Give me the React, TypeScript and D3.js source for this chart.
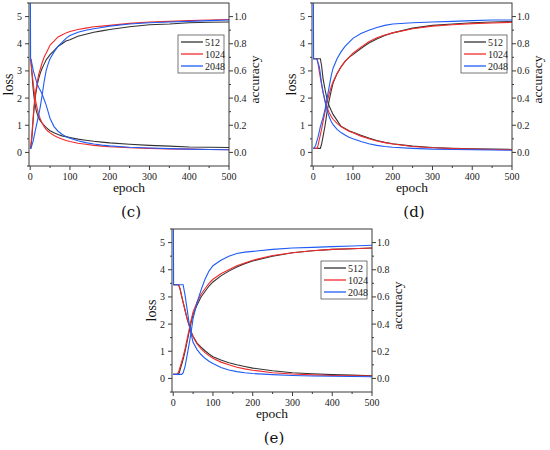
import React from "react";
import * as d3 from "d3";

// ---------- data ----------
const EPOCHS = [0, 1, 2, 4, 6, 8, 10, 12, 15, 18, 21, 25, 30, 35, 40, 45, 50, 60, 70, 80, 90, 100, 120, 140, 160, 180, 200, 250, 300, 350, 400, 450, 500];
const SERIES_NAMES = ["512", "1024", "2048"];
const COLORS = ["#333333", "#f22a2a", "#1f5cf5"];

const X_TICKS = [0, 100, 200, 300, 400, 500];
const LOSS_TICKS = [0, 1, 2, 3, 4, 5];
const ACC_TICKS = [0, 0.2, 0.4, 0.6, 0.8, 1.0];

// panel (c)
const cLoss512 = [3.45, 3.45, 3.4, 3.0, 2.6, 2.25, 2.0, 1.8, 1.55, 1.4, 1.28, 1.18, 1.08, 1.0, 0.92, 0.86, 0.8, 0.72, 0.66, 0.61, 0.58, 0.55, 0.49, 0.45, 0.41, 0.38, 0.35, 0.3, 0.26, 0.23, 0.2, 0.19, 0.18];
const cLoss1024 = [3.45, 3.4, 3.3, 3.0, 2.75, 2.5, 2.25, 2.05, 1.8, 1.6, 1.42, 1.25, 1.08, 0.95, 0.85, 0.78, 0.72, 0.62, 0.55, 0.49, 0.44, 0.4, 0.34, 0.3, 0.26, 0.23, 0.21, 0.17, 0.15, 0.13, 0.12, 0.11, 0.1];
const cLoss2048 = [8, 3.45, 3.42, 3.3, 3.15, 3.0, 2.9, 2.8, 2.65, 2.5, 2.4, 2.3, 2.15, 1.95, 1.75, 1.5, 1.25, 0.95, 0.78, 0.67, 0.58, 0.52, 0.43, 0.36, 0.31, 0.27, 0.24, 0.19, 0.16, 0.14, 0.12, 0.11, 0.1];
const cAcc512 = [0.03, 0.03, 0.05, 0.1, 0.18, 0.26, 0.33, 0.39, 0.45, 0.5, 0.54, 0.58, 0.62, 0.65, 0.68, 0.7, 0.72, 0.75, 0.78, 0.8, 0.82, 0.83, 0.855, 0.87, 0.885, 0.895, 0.905, 0.925, 0.94, 0.945, 0.955, 0.958, 0.96];
const cAcc1024 = [0.03, 0.035, 0.06, 0.12, 0.2, 0.28, 0.35, 0.41, 0.47, 0.52, 0.57, 0.61, 0.66, 0.7, 0.73, 0.76, 0.79, 0.82, 0.85, 0.865, 0.88, 0.89, 0.905, 0.915, 0.925, 0.93, 0.935, 0.95, 0.96, 0.965, 0.97, 0.975, 0.978];
const cAcc2048 = [0.03, 0.03, 0.03, 0.05, 0.07, 0.09, 0.12, 0.15, 0.19, 0.23, 0.27, 0.33, 0.42, 0.52, 0.6, 0.65, 0.69, 0.74, 0.78, 0.81, 0.84, 0.86, 0.885, 0.9, 0.91, 0.92, 0.93, 0.945, 0.955, 0.96, 0.965, 0.97, 0.975];

// panel (d)
const dLoss512 = [3.45, 3.45, 3.45, 3.45, 3.45, 3.45, 3.45, 3.45, 3.45, 3.45, 3.2, 2.7, 2.3, 1.95, 1.72, 1.55, 1.4, 1.18, 0.96, 0.88, 0.8, 0.74, 0.63, 0.53, 0.44, 0.37, 0.32, 0.23, 0.18, 0.15, 0.13, 0.12, 0.11];
const dLoss1024 = [3.45, 3.45, 3.45, 3.45, 3.45, 3.45, 3.45, 3.3, 3.0, 2.75, 2.5, 2.2, 1.9, 1.65, 1.47, 1.33, 1.22, 1.07, 0.95, 0.86, 0.78, 0.72, 0.6, 0.5, 0.42, 0.36, 0.31, 0.22, 0.17, 0.14, 0.12, 0.11, 0.1];
const dLoss2048 = [8, 3.45, 3.45, 3.45, 3.45, 3.45, 3.4, 3.3, 3.18, 2.9, 2.55, 2.2, 1.85, 1.55, 1.32, 1.15, 1.02, 0.85, 0.73, 0.64, 0.56, 0.5, 0.4, 0.32, 0.26, 0.22, 0.19, 0.15, 0.12, 0.11, 0.1, 0.09, 0.08];
const dAcc512 = [0.03, 0.03, 0.03, 0.03, 0.03, 0.03, 0.03, 0.03, 0.03, 0.03, 0.06, 0.12, 0.2, 0.3, 0.38, 0.45, 0.51, 0.58, 0.63, 0.67, 0.7, 0.72, 0.765, 0.805, 0.835, 0.86, 0.88, 0.915, 0.935, 0.945, 0.955, 0.96, 0.963];
const dAcc1024 = [0.03, 0.03, 0.03, 0.03, 0.03, 0.03, 0.03, 0.05, 0.09, 0.13, 0.17, 0.23, 0.3, 0.37, 0.43, 0.48, 0.52, 0.58, 0.63, 0.67, 0.7, 0.73, 0.775, 0.815, 0.845, 0.865, 0.88, 0.91, 0.93, 0.94, 0.948, 0.953, 0.958];
const dAcc2048 = [0.03, 0.03, 0.03, 0.04, 0.05, 0.07, 0.09, 0.11, 0.15, 0.19, 0.22, 0.26, 0.32, 0.4, 0.48, 0.56, 0.62, 0.69, 0.74, 0.78, 0.81, 0.84, 0.875, 0.9, 0.92, 0.935, 0.945, 0.955, 0.96, 0.965, 0.97, 0.975, 0.975];

// panel (e)
const eLoss512 = [3.45, 3.45, 3.45, 3.45, 3.45, 3.45, 3.45, 3.45, 3.4, 3.25, 3.05, 2.8, 2.5, 2.2, 1.95, 1.72, 1.55, 1.3, 1.15, 1.02, 0.9, 0.8, 0.68, 0.58, 0.5, 0.44, 0.38, 0.28, 0.21, 0.17, 0.14, 0.12, 0.1];
const eLoss1024 = [3.45, 3.45, 3.45, 3.45, 3.45, 3.45, 3.45, 3.45, 3.4, 3.25, 3.05, 2.8, 2.5, 2.2, 1.95, 1.72, 1.53, 1.27, 1.1, 0.95, 0.84, 0.74, 0.6, 0.5, 0.41, 0.35, 0.3, 0.21, 0.16, 0.13, 0.11, 0.1, 0.09];
const eLoss2048 = [8, 3.45, 3.45, 3.45, 3.45, 3.45, 3.45, 3.45, 3.45, 3.45, 3.45, 3.45, 3.05, 2.55, 2.05, 1.65, 1.33, 1.06, 0.88, 0.74, 0.63, 0.55, 0.4, 0.31, 0.25, 0.21, 0.18, 0.14, 0.11, 0.09, 0.08, 0.07, 0.06];
const eAcc512 = [0.03, 0.03, 0.03, 0.03, 0.03, 0.03, 0.03, 0.03, 0.04, 0.07, 0.1, 0.14, 0.2, 0.27, 0.34, 0.41, 0.47, 0.54, 0.6, 0.64, 0.68, 0.71, 0.755, 0.79, 0.82, 0.845, 0.865, 0.9, 0.925, 0.94, 0.95, 0.955, 0.96];
const eAcc1024 = [0.03, 0.03, 0.03, 0.03, 0.03, 0.03, 0.03, 0.04, 0.06, 0.09, 0.12, 0.16, 0.22, 0.29, 0.36, 0.43, 0.49, 0.56, 0.62, 0.66, 0.7, 0.73, 0.77, 0.8, 0.83, 0.85, 0.87, 0.905, 0.925, 0.94, 0.95, 0.955, 0.96];
const eAcc2048 = [0.03, 0.03, 0.03, 0.03, 0.03, 0.03, 0.03, 0.03, 0.03, 0.03, 0.03, 0.04, 0.09, 0.17, 0.25, 0.34, 0.44, 0.56, 0.65, 0.73, 0.79, 0.83, 0.87, 0.9, 0.92, 0.93, 0.935, 0.95, 0.96, 0.965, 0.97, 0.975, 0.98];

const PANELS = [
  { label: "(c)", left: 29, top: 3, loss: [cLoss512, cLoss1024, cLoss2048], acc: [cAcc512, cAcc1024, cAcc2048] },
  { label: "(d)", left: 312, top: 3, loss: [dLoss512, dLoss1024, dLoss2048], acc: [dAcc512, dAcc1024, dAcc2048] },
  { label: "(e)", left: 172, top: 229, loss: [eLoss512, eLoss1024, eLoss2048], acc: [eAcc512, eAcc1024, eAcc2048] },
];

const W = 200;
const H = 163;
const FONT = "'Liberation Serif', 'Times New Roman', serif";
const AXIS = "#3a3a3a";

function Panel({ p, idx }: { p: any; idx: number }) {
  const x = d3.scaleLinear().domain([-3, 500]).range([0, W]);
  const yL = d3.scaleLinear().domain([-0.5, 5.5]).range([H, 0]);
  const yR = d3.scaleLinear().domain([-0.1, 1.1]).range([H, 0]);
  const lineL = d3.line<number>().x((_, i) => x(EPOCHS[i])).y((d) => yL(d));
  const lineR = d3.line<number>().x((_, i) => x(EPOCHS[i])).y((d) => yR(d));
  const clipId = `clip-${idx}`;
  const xMinor = d3.range(50, 500, 100);
  const lMinor = d3.range(-0.5, 5.51, 1);
  const rMinor = d3.range(0.1, 1.01, 0.2);
  const lgX = W - 51;
  const lgY = 32;
  return (
    <g transform={`translate(${p.left},${p.top})`}>
      <defs>
        <clipPath id={clipId}>
          <rect x={0} y={0} width={W} height={H} />
        </clipPath>
      </defs>
      <g clipPath={`url(#${clipId})`} fill="none" strokeWidth={1.1}>
        {[0, 1, 2].map((k) => (
          <g key={k}>
            <path d={lineL(p.loss[k]) || ""} stroke={COLORS[k]} />
            <path d={lineR(p.acc[k]) || ""} stroke={COLORS[k]} />
          </g>
        ))}
      </g>
      {/* frame */}
      <rect x={0} y={0} width={W} height={H} fill="none" stroke={AXIS} strokeWidth={1} />
      {/* x axis */}
      {X_TICKS.map((t) => (
        <g key={"x" + t}>
          <line x1={x(t)} x2={x(t)} y1={H} y2={H + 4} stroke={AXIS} />
          <text x={x(t)} y={H + 14} textAnchor="middle" fontSize={10} fontFamily={FONT} fill="#222">{t}</text>
        </g>
      ))}
      {xMinor.map((t) => (
        <line key={"xm" + t} x1={x(t)} x2={x(t)} y1={H} y2={H + 2} stroke={AXIS} />
      ))}
      {/* left axis */}
      {LOSS_TICKS.map((t) => (
        <g key={"l" + t}>
          <line x1={-4} x2={0} y1={yL(t)} y2={yL(t)} stroke={AXIS} />
          <text x={-7} y={yL(t)} dy="0.35em" textAnchor="end" fontSize={10} fontFamily={FONT} fill="#222">{t}</text>
        </g>
      ))}
      {lMinor.map((t) => (
        <line key={"lm" + t} x1={-2} x2={0} y1={yL(t)} y2={yL(t)} stroke={AXIS} />
      ))}
      {/* right axis */}
      {ACC_TICKS.map((t) => (
        <g key={"r" + t}>
          <line x1={W} x2={W + 4} y1={yR(t)} y2={yR(t)} stroke={AXIS} />
          <text x={W + 5} y={yR(t)} dy="0.35em" textAnchor="start" fontSize={10} fontFamily={FONT} fill="#222">{t.toFixed(1)}</text>
        </g>
      ))}
      {rMinor.map((t) => (
        <line key={"rm" + t} x1={W} x2={W + 2} y1={yR(t)} y2={yR(t)} stroke={AXIS} />
      ))}
      {/* titles */}
      <text x={W / 2} y={H + 26} textAnchor="middle" fontSize={13.5} fontFamily={FONT} fill="#111">epoch</text>
      <text transform={`translate(${-16},${H / 2}) rotate(-90)`} textAnchor="middle" fontSize={14} fontFamily={FONT} fill="#111">loss</text>
      <text transform={`translate(${W + 30},${H / 2 - 5}) rotate(-90)`} textAnchor="middle" fontSize={13.5} fontFamily={FONT} fill="#111">accuracy</text>
      <text x={W / 2 + 2} y={H + 51} textAnchor="middle" fontSize={15} fontFamily="'DejaVu Serif', serif" fill="#111">{p.label}</text>
      {/* legend */}
      <g transform={`translate(${lgX},${lgY})`}>
        <rect x={0} y={0} width={46} height={38} fill="#fff" stroke="#555" strokeWidth={0.8} />
        {SERIES_NAMES.map((n, k) => (
          <g key={n} transform={`translate(0,${7 + k * 12})`}>
            <line x1={3} x2={25} y1={0} y2={0} stroke={COLORS[k]} strokeWidth={1.3} />
            <text x={27} y={0} dy="0.35em" fontSize={10} fontFamily={FONT} fill="#222">{n}</text>
          </g>
        ))}
      </g>
    </g>
  );
}

export default function App() {
  return (
    <svg width={550} height={450} style={{ position: "absolute", left: 0, top: 0, background: "#fff" }}>
      {PANELS.map((p, i) => (
        <Panel key={p.label} p={p} idx={i} />
      ))}
    </svg>
  );
}
